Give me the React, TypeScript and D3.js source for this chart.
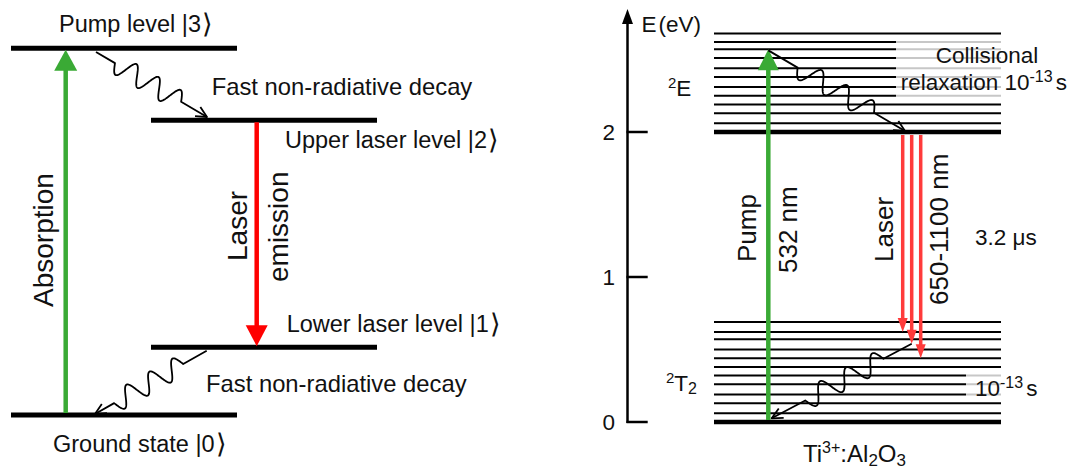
import React from 'react';
import * as d3 from 'd3';

// Four-level laser scheme (left panel), relative energies
const leftLevelNames = ['Ground state |0', 'Lower laser level |1', 'Upper laser level |2', 'Pump level |3'];
const leftLevelEnergies = [0, 0.185, 0.804, 1];

// Ti:sapphire vibronic manifolds (right panel), eV
const upperBandEnergies = [2.0, 2.06, 2.13, 2.19, 2.25, 2.31, 2.38, 2.44, 2.51, 2.57, 2.62, 2.68];
const lowerBandEnergies = [0, 0.06, 0.13, 0.19, 0.26, 0.32, 0.38, 0.44, 0.5, 0.57, 0.62, 0.69];
const energyTicks = [0, 1, 2];
const pumpEnergy = 2.57;
const laserEndEnergies = [0.62, 0.54, 0.44];

const W = 1079;
const H = 470;
const FONT = '"Liberation Sans", Arial, Helvetica, sans-serif';
const GREEN = '#3aaa35';
const TXT = '#111';

type Pt = [number, number];

function wavy(p0: Pt, p1: Pt, leadIn: number, leadOut: number, periods: number, amp: number) {
  const [x0, y0] = p0;
  const [x1, y1] = p1;
  const L = Math.hypot(x1 - x0, y1 - y0);
  const ux = (x1 - x0) / L;
  const uy = (y1 - y0) / L;
  const nx = -uy;
  const ny = ux;
  const pts: Pt[] = [[x0, y0]];
  const a = leadIn;
  const b = L - leadOut;
  const n = 180;
  for (let i = 0; i <= n; i++) {
    const t = a + ((b - a) * i) / n;
    const s = amp * Math.sin((2 * Math.PI * periods * i) / n);
    pts.push([x0 + ux * t + nx * s, y0 + uy * t + ny * s]);
  }
  pts.push([x1, y1]);
  const body = d3.line()(pts) as string;
  // open arrowhead at the end point
  const len = 12;
  const ang = (26 * Math.PI) / 180;
  const rot = (a2: number): Pt => [
    x1 - len * (ux * Math.cos(a2) - uy * Math.sin(a2)),
    y1 - len * (ux * Math.sin(a2) + uy * Math.cos(a2)),
  ];
  const h1 = rot(ang);
  const h2 = rot(-ang);
  const head = `M${h1[0]},${h1[1]}L${x1},${y1}L${h2[0]},${h2[1]}`;
  return { body, head };
}

function Wavy(props: { p0: Pt; p1: Pt; leadIn: number; leadOut: number; periods: number; amp: number }) {
  const { body, head } = wavy(props.p0, props.p1, props.leadIn, props.leadOut, props.periods, props.amp);
  return (
    <g fill="none" stroke="#000" strokeWidth={1.8} strokeLinejoin="round">
      <path d={body} />
      <path d={head} />
    </g>
  );
}

function ArrowUp(props: { x: number; y0: number; y1: number; color: string; w: number; hw: number; hh: number }) {
  const { x, y0, y1, color, w, hw, hh } = props;
  return (
    <g>
      <line x1={x} x2={x} y1={y0} y2={y1 + hh - 1} stroke={color} strokeWidth={w} />
      <path d={`M${x},${y1}L${x - hw / 2},${y1 + hh}L${x + hw / 2},${y1 + hh}Z`} fill={color} />
    </g>
  );
}

function ArrowDown(props: { x: number; y0: number; y1: number; color: string; w: number; hw: number; hh: number }) {
  const { x, y0, y1, color, w, hw, hh } = props;
  return (
    <g>
      <line x1={x} x2={x} y1={y0} y2={y1 - hh + 1} stroke={color} strokeWidth={w} />
      <path d={`M${x},${y1}L${x - hw / 2},${y1 - hh}L${x + hw / 2},${y1 - hh}Z`} fill={color} />
    </g>
  );
}

function VText(props: { x: number; y: number; size: number; children: React.ReactNode }) {
  return (
    <text
      transform={`translate(${props.x},${props.y}) rotate(-90)`}
      fontSize={props.size}
      fontFamily={FONT}
      fill={TXT}
    >
      {props.children}
    </text>
  );
}

// label with a tall ket bracket
function Ket(props: { x: number; y: number; text: string }) {
  return (
    <text x={props.x} y={props.y} fontSize={23.5} fontFamily={FONT} fill={TXT}>
      {props.text}
      <tspan fontSize={27} dx={1} dy={1}>⟩</tspan>
    </text>
  );
}

export default function App() {
  // left panel scale
  const yL = d3.scaleLinear().domain([0, 1]).range([415, 48.3]);
  const leftX = [
    [11, 237],
    [151, 377],
    [151, 377],
    [11, 237],
  ];
  const leftLabelPos: Pt[] = [
    [53, 451.7],
    [286.7, 331.7],
    [285, 148],
    [59, 32],
  ];

  // right panel scale
  const yR = d3.scaleLinear().domain([0, 2]).range([422, 132]);
  const axisX = 627.5;
  const bandX0 = 714;
  const bandX1 = 1001;
  const pumpX = 768.3;
  const laserX = [902.7, 911.7, 920.7];

  const pumpTipY = yR(pumpEnergy);
  const upperBase = yR(2);
  const laserTips = laserEndEnergies.map((e) => yR(e));

  return (
    <svg
      width={W}
      height={H}
      viewBox={`0 0 ${W} ${H}`}
      style={{ position: 'absolute', left: 0, top: 0, background: '#fff' }}
    >
      <rect x={0} y={0} width={W} height={H} fill="#fff" />

      {/* ---------- left: four-level scheme ---------- */}
      {leftLevelEnergies.map((e, i) => (
        <line
          key={`ll${i}`}
          x1={leftX[i][0]}
          x2={leftX[i][1]}
          y1={yL(e)}
          y2={yL(e)}
          stroke="#000"
          strokeWidth={5}
        />
      ))}
      {leftLevelNames.map((name, i) => (
        <Ket key={`lt${i}`} x={leftLabelPos[i][0]} y={leftLabelPos[i][1]} text={name} />
      ))}
      <text x={211.7} y={95} fontSize={23.8} fontFamily={FONT} fill={TXT}>
        Fast non-radiative decay
      </text>
      <text x={206} y={392.3} fontSize={23.8} fontFamily={FONT} fill={TXT}>
        Fast non-radiative decay
      </text>

      <ArrowUp x={65.7} y0={yL(0) - 2} y1={yL(1) + 1.5} color={GREEN} w={4.5} hw={23} hh={21} />
      <ArrowDown x={256.7} y0={yL(leftLevelEnergies[2]) + 2} y1={yL(leftLevelEnergies[1]) - 1} color="#ff0000" w={4.5} hw={22} hh={21} />

      <Wavy p0={[96, 52]} p1={[207, 117]} leadIn={22} leadOut={30} periods={3} amp={10} />
      <Wavy p0={[206.7, 350.7]} p1={[95, 414]} leadIn={27} leadOut={22} periods={3} amp={10} />

      <VText x={53.3} y={307} size={28}>Absorption</VText>
      <VText x={246.7} y={261} size={28}>Laser</VText>
      <VText x={288} y={282} size={28}>emission</VText>

      {/* ---------- right: Ti:sapphire ---------- */}
      {/* energy axis */}
      <line x1={axisX} x2={axisX} y1={yR(0) + 1} y2={20} stroke="#000" strokeWidth={2.5} />
      <path d={`M${axisX},9L${axisX - 5.5},24L${axisX + 5.5},24Z`} fill="#000" />
      {energyTicks.map((t) => (
        <g key={`tk${t}`}>
          <line x1={axisX - 1} x2={647.7} y1={yR(t)} y2={yR(t)} stroke="#000" strokeWidth={2.5} />
          <text x={615} y={yR(t) + 8} textAnchor="end" fontSize={22.5} fontFamily={FONT} fill={TXT}>
            {t}
          </text>
        </g>
      ))}
      <text x={641.5} y={31.5} fontSize={22.5} fontFamily={FONT} fill={TXT}>
        E<tspan dx={2}>(eV)</tspan>
      </text>

      {/* vibronic levels */}
      {upperBandEnergies.map((e, i) => (
        <line
          key={`ub${i}`}
          x1={bandX0}
          x2={bandX1}
          y1={yR(e)}
          y2={yR(e)}
          stroke="#000"
          strokeWidth={e === 2 ? 4.5 : 2}
        />
      ))}
      {lowerBandEnergies.map((e, i) => (
        <line
          key={`lb${i}`}
          x1={bandX0}
          x2={bandX1}
          y1={yR(e)}
          y2={yR(e)}
          stroke="#000"
          strokeWidth={e === 0 ? 4.5 : 2}
        />
      ))}
      {/* translucent label backgrounds */}
      <rect x={896} y={37} width={106} height={62} fill="#fff" opacity={0.78} />
      <rect x={966} y={371} width={36} height={27} fill="#fff" opacity={0.78} />

      <text x={987} y={63.3} textAnchor="middle" fontSize={22.5} fontFamily={FONT} fill={TXT}>
        Collisional
      </text>
      <text x={900.7} y={90} fontSize={22.5} fontFamily={FONT} fill={TXT}>
        relaxation 10
        <tspan fontSize={16} dy={-8}>-13</tspan>
        <tspan dy={8} dx={3}>s</tspan>
      </text>
      <text x={975} y={396} fontSize={22.5} fontFamily={FONT} fill={TXT}>
        10
        <tspan fontSize={16} dy={-8}>-13</tspan>
        <tspan dy={8} dx={3}>s</tspan>
      </text>

      <text x={668} y={95.7} fontSize={22.5} fontFamily={FONT} fill={TXT}>
        <tspan fontSize={15} dy={-8}>2</tspan>
        <tspan dy={8}>E</tspan>
      </text>
      <text x={666} y={390.7} fontSize={22.5} fontFamily={FONT} fill={TXT}>
        <tspan fontSize={15} dy={-8}>2</tspan>
        <tspan dy={8}>T</tspan>
        <tspan fontSize={16} dy={3}>2</tspan>
      </text>

      {/* pump and laser transitions */}
      <ArrowUp x={pumpX} y0={yR(0) - 2} y1={pumpTipY} color={GREEN} w={4.5} hw={21} hh={21} />
      {laserX.map((x, i) => (
        <ArrowDown key={`la${i}`} x={x} y0={upperBase + 3} y1={laserTips[i]} color="#ff3b3b" w={3.5} hw={10} hh={14} />
      ))}

      <Wavy p0={[pumpX, pumpTipY + 1]} p1={[905, 131]} leadIn={34} leadOut={36} periods={3} amp={10} />
      <Wavy p0={[911.7, laserTips[1]]} p1={[771.7, 418.3]} leadIn={32} leadOut={38} periods={3} amp={10} />

      <VText x={756} y={262} size={26}>Pump</VText>
      <VText x={797} y={273} size={26}>532 nm</VText>
      <VText x={893} y={262} size={26}>Laser</VText>
      <VText x={948} y={305} size={26}>650-1100 nm</VText>

      <text x={975} y={245} fontSize={22.5} fontFamily={FONT} fill={TXT}>
        3.2 μs
      </text>

      <text x={803} y={461.7} fontSize={24} fontFamily={FONT} fill={TXT}>
        Ti<tspan fontSize={16} dy={-9}>3+</tspan>
        <tspan dy={9}>:Al</tspan>
        <tspan fontSize={17} dy={4}>2</tspan>
        <tspan dy={-4}>O</tspan>
        <tspan fontSize={17} dy={4}>3</tspan>
      </text>
    </svg>
  );
}
